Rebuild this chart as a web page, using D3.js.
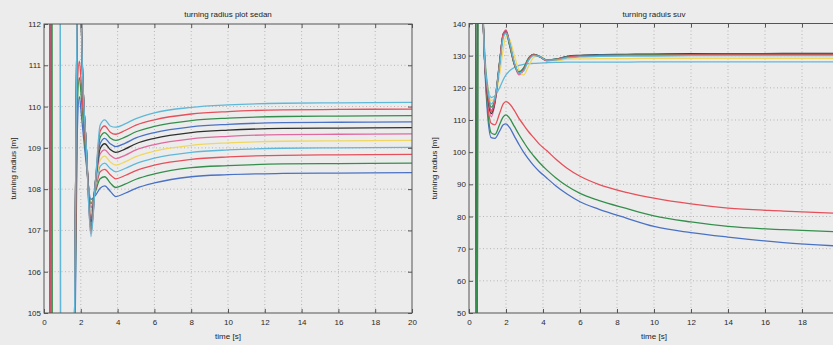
<!DOCTYPE html>
<html>
<head>
<meta charset="utf-8">
<script src="https://cdn.jsdelivr.net/npm/d3@7"></script>
<style>
  body { margin: 0; background: #ececec; }
  svg { display: block; font-family: "Liberation Sans", Arial, sans-serif; }
</style>
</head>
<body>
<svg id="chart" width="833" height="345"></svg>
<script>
// ---- data ----
const xTicks = [0, 2, 4, 6, 8, 10, 12, 14, 16, 18, 20];
const sedanYTicks = [105, 106, 107, 108, 109, 110, 111, 112];
const suvYTicks = [50, 60, 70, 80, 90, 100, 110, 120, 130, 140];

// sedan: time [s] and one radius list per line (values off the axis are clipped)
const sedanTime = [0, 0.30, 0.36, 0.40, 0.46, 0.86, 0.92, 1.45, 1.62, 1.80, 1.92, 2.05, 2.30, 2.55, 2.80, 3.05, 3.30, 3.60, 3.90, 4.40, 5, 6, 8, 10, 13, 16, 20];
const sedanBlue1   = [125,125,95,95,95,95,95,95, 101.0,109.2,110.24,109.7,108.6,107.75,107.85,108.02,108.08,107.95,107.82,107.90,108.02,108.15,108.30,108.35,108.38,108.39,108.40];
const sedanGreen1  = [125,125,125,125,95,95,95,95, 101.5,109.8,110.7,110.1,108.7,107.65,107.95,108.25,108.30,108.15,108.04,108.12,108.24,108.37,108.52,108.57,108.61,108.62,108.63];
const sedanRed1    = [125,125,95,95,95,95,95,95, 102.0,110.3,111.1,110.4,108.8,107.55,108.00,108.42,108.48,108.35,108.25,108.33,108.45,108.58,108.72,108.78,108.82,108.83,108.84];
const sedanCyan1   = [125,125,125,125,125,125,95,95, 102.5,112.5,116,111.6,109.0,107.45,108.05,108.55,108.63,108.50,108.42,108.50,108.62,108.75,108.89,108.95,108.99,109.00,109.01];
const sedanYellow  = [125,125,95,95,95,95,95,95, 102.5,112.5,116,111.6,109.0,107.35,108.10,108.70,108.80,108.66,108.58,108.66,108.79,108.92,109.06,109.12,109.16,109.17,109.18];
const sedanMagenta = [125,125,95,95,95,95,95,95, 102.5,112.5,116,111.6,109.0,107.30,108.15,108.85,108.95,108.82,108.74,108.82,108.95,109.08,109.22,109.28,109.32,109.33,109.34];
const sedanBlack   = [125,125,95,95,95,95,95,95, 102.5,112.5,116,111.6,109.0,107.20,108.20,108.98,109.10,108.96,108.89,108.97,109.10,109.23,109.37,109.43,109.47,109.48,109.49];
const sedanBlue2   = [125,125,95,95,95,95,95,95, 102.5,112.5,116,111.6,109.0,107.10,108.20,109.10,109.23,109.10,109.03,109.11,109.24,109.37,109.51,109.57,109.61,109.62,109.63];
const sedanGreen2  = [125,125,125,125,95,95,95,95, 102.5,112.5,116,111.6,109.0,107.00,108.20,109.25,109.37,109.24,109.18,109.26,109.39,109.52,109.66,109.72,109.76,109.77,109.78];
const sedanRed2    = [125,125,95,95,95,95,95,95, 102.5,112.5,116,111.6,109.0,106.92,108.20,109.40,109.53,109.38,109.33,109.42,109.55,109.68,109.82,109.88,109.92,109.93,109.94];
const sedanCyan2   = [125,125,125,125,125,125,95,95, 102.5,112.5,116,111.6,109.0,106.85,108.20,109.55,109.68,109.53,109.50,109.58,109.71,109.85,109.98,110.04,110.08,110.09,110.10];

// suv
const suvTime = [0, 0.36, 0.40, 0.44, 0.48, 0.70, 0.85, 1.0, 1.2, 1.4, 1.65, 1.85, 2.0, 2.2, 2.45, 2.7, 2.95, 3.2, 3.5, 3.8, 4.2, 4.7, 5.3, 6, 7, 8.5, 10, 12, 14, 17, 20];
const suvBlue1   = [160,160,160,160,160,150, 127,112,104.5,104.3,106.5,108.5,108.8,107.6,105.0,102.4,100.0,98.0,95.8,94.0,92.0,89.5,87.0,84.6,82.3,79.5,76.9,75.0,73.6,71.9,70.8];
const suvGreen1  = [160,160,20,20,160,150, 128,114,106.0,105.5,108.5,111.0,111.6,110.5,108.0,105.5,103.2,101.0,98.8,96.8,94.5,92.0,89.5,87.2,85.0,82.5,80.2,78.3,76.9,75.9,75.2];
const suvRed1    = [160,160,160,160,160,150, 130,116,109.0,108.5,112.0,115.0,115.7,115.0,113.0,110.5,108.5,106.5,104.5,102.5,100.5,97.8,95.0,92.5,90.0,87.5,85.7,83.9,82.6,81.7,81.0];
const suvCyan1   = [160,160,160,160,160,150, 131,121,117.0,117.5,120.0,122.5,124.0,125.3,126.3,127.0,127.3,127.5,127.6,127.7,127.8,127.9,128.0,128.0,128.0,128.0,128.1,128.1,128.1,128.1,128.1];
const suvMagenta = [160,160,160,160,160,150, 128,118,111.0,115.0,127.0,136.5,138.0,134.0,127.5,124.0,125.5,128.8,130.3,129.8,128.4,128.7,129.5,129.8,130.0,130.1,130.2,130.2,130.3,130.3,130.3];
const suvYellow  = [160,160,160,160,160,150, 130,121,116.0,117.0,124.0,132.0,136.0,135.0,130.0,125.5,124.0,126.5,129.5,130.0,128.6,128.4,128.9,129.0,129.1,129.1,129.2,129.2,129.2,129.2,129.2];
const suvBlack   = [160,160,20,20,160,150, 128,118,112.0,115.5,127.5,136.8,137.6,133.5,127.5,124.8,125.8,128.8,130.4,129.8,128.6,128.9,129.8,130.1,130.3,130.4,130.5,130.6,130.6,130.7,130.7];
const suvBlue2   = [160,160,160,160,160,150, 128,119,113.0,116.0,127.8,136.5,137.3,133.2,127.3,124.9,126.0,129.0,130.4,129.8,128.7,128.9,129.7,130.0,130.2,130.3,130.4,130.4,130.5,130.5,130.5];
const suvGreen2  = [160,160,20,20,160,150, 129,120,114.0,116.5,128.0,136.3,137.0,133.0,127.2,125.0,126.2,129.1,130.3,129.7,128.7,128.9,129.6,129.9,130.1,130.2,130.3,130.3,130.4,130.4,130.4];
const suvRed2    = [160,160,160,160,160,150, 128,119,112.5,116.0,127.5,136.8,137.8,133.8,127.6,124.5,125.6,128.7,130.2,129.7,128.5,128.8,129.5,129.8,130.0,130.1,130.1,130.2,130.2,130.2,130.2];
const suvCyan2   = [160,160,160,160,160,150, 129,120,115.0,117.0,126.5,135.5,137.0,134.0,128.0,124.6,125.2,128.3,130.0,129.8,128.6,128.7,129.3,129.6,129.8,129.9,129.9,130.0,130.0,130.0,130.0];

const BLUE = "#4a72c4", GREEN = "#358f4c", RED = "#e5505b", CYAN = "#60b8d8",
      MAGENTA = "#e06a9f", YELLOW = "#efd760", BLACK = "#303030";

const sedanLines = [
  [sedanBlue1, BLUE], [sedanGreen1, GREEN], [sedanRed1, RED], [sedanCyan1, CYAN],
  [sedanYellow, YELLOW], [sedanMagenta, MAGENTA], [sedanBlack, BLACK],
  [sedanBlue2, BLUE], [sedanGreen2, GREEN], [sedanRed2, RED], [sedanCyan2, CYAN]
];
const suvLines = [
  [suvBlue1, BLUE], [suvGreen1, GREEN], [suvRed1, RED], [suvCyan1, CYAN],
  [suvMagenta, MAGENTA], [suvYellow, YELLOW], [suvBlack, BLACK],
  [suvBlue2, BLUE], [suvGreen2, GREEN], [suvRed2, RED], [suvCyan2, CYAN]
];

const W = 833;
const svg = d3.select("#chart");

function panel(o) {
  const x = d3.scaleLinear().domain([0, 20]).range([o.left, o.right]);
  const y = d3.scaleLinear().domain(d3.extent(o.yTicks)).range([o.bottom, o.top]);
  const g = svg.append("g");

  // dotted grid
  g.append("g").selectAll("line").data(xTicks.slice(1, -1)).join("line")
    .attr("x1", d => x(d)).attr("x2", d => x(d)).attr("y1", o.top).attr("y2", o.bottom)
    .attr("stroke", "#b5b5b5").attr("stroke-dasharray", "1,2.5");
  g.append("g").selectAll("line").data(o.yTicks.slice(1, -1)).join("line")
    .attr("x1", o.left).attr("x2", o.right).attr("y1", d => y(d)).attr("y2", d => y(d))
    .attr("stroke", "#b5b5b5").attr("stroke-dasharray", "1,2.5");

  // lines
  g.append("clipPath").attr("id", o.clip).append("rect")
    .attr("x", o.left).attr("y", o.top).attr("width", o.right - o.left).attr("height", o.bottom - o.top);
  const line = d3.line().x((d, i) => x(o.time[i])).y(d => y(d)).curve(d3.curveMonotoneX);
  g.append("g").attr("clip-path", `url(#${o.clip})`)
    .selectAll("path").data(o.lines).join("path")
    .attr("d", d => line(d[0]))
    .attr("fill", "none").attr("stroke", d => d[1]).attr("stroke-width", 1.3);

  // axes, ticks inward on all four sides; labels only where they fit in the window
  const visX = xTicks.filter(d => x(d) + 5 < W);
  const style = a => {
    a.select(".domain").remove();
    a.selectAll(".tick line").attr("stroke", "#555");
    a.selectAll(".tick text").attr("fill", "#2a2a2a").attr("font-size", 8);
  };
  g.append("g").attr("transform", `translate(0,${o.bottom})`)
    .call(d3.axisBottom(x).tickValues(visX).tickFormat(d3.format("d"))
      .tickSizeInner(-4).tickSizeOuter(0).tickPadding(6)).call(style);
  g.append("g").attr("transform", `translate(${o.left},0)`)
    .call(d3.axisLeft(y).tickValues(o.yTicks).tickFormat(d3.format("d"))
      .tickSizeInner(-4).tickSizeOuter(0).tickPadding(3)).call(style);
  g.append("g").attr("transform", `translate(0,${o.top})`)
    .call(d3.axisTop(x).tickValues(visX).tickSizeInner(-4).tickSizeOuter(0).tickFormat("")).call(style);
  g.append("g").attr("transform", `translate(${o.right},0)`)
    .call(d3.axisRight(y).tickValues(o.yTicks).tickSizeInner(-4).tickSizeOuter(0).tickFormat("")).call(style);

  g.append("rect").attr("x", o.left).attr("y", o.top)
    .attr("width", o.right - o.left).attr("height", o.bottom - o.top)
    .attr("fill", "none").attr("stroke", "#555").attr("stroke-width", 1);

  g.append("text").attr("x", (o.left + o.right) / 2).attr("y", o.top - 7)
    .attr("text-anchor", "middle").attr("font-size", 8).attr("fill", "#222").text(o.title);
  g.append("text").attr("x", (o.left + o.right) / 2).attr("y", o.bottom + 26)
    .attr("text-anchor", "middle").attr("font-size", 8).attr("fill", "#222").text("time [s]");
  g.append("text").attr("transform", `translate(${o.left - o.yLabelGap},${(o.top + o.bottom) / 2}) rotate(-90)`)
    .attr("text-anchor", "middle").attr("font-size", 8).attr("fill", "#222").text("turning radius [m]");
}

panel({ left: 44, right: 412, top: 24, bottom: 313, yTicks: sedanYTicks, time: sedanTime, yLabelGap: 28,
        lines: sedanLines, title: "turning radius plot sedan", clip: "clipSedan" });
panel({ left: 469, right: 839, top: 23.5, bottom: 313, yTicks: suvYTicks, time: suvTime, yLabelGap: 32,
        lines: suvLines, title: "turning raduis suv", clip: "clipSuv" });
</script>
</body>
</html>
